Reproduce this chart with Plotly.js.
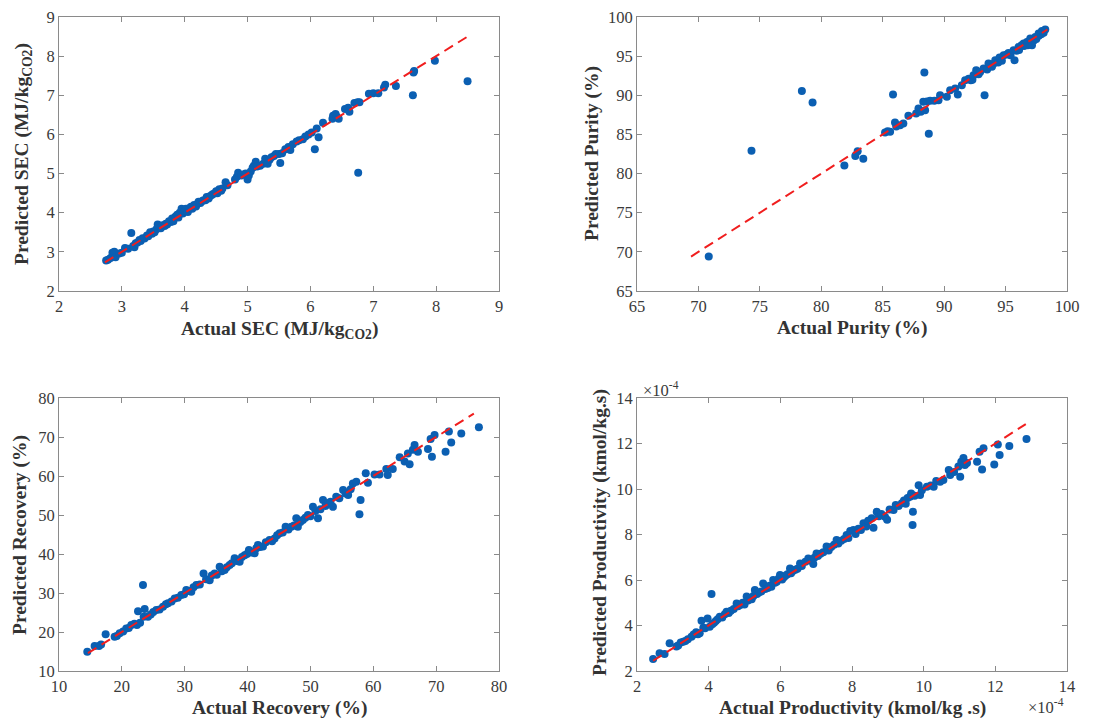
<!DOCTYPE html>
<html>
<head>
<meta charset="utf-8">
<script src="https://cdn.plot.ly/plotly-3.0.1.min.js"></script>
<style>html,body{margin:0;padding:0;background:#fff;}#chart{width:1096px;height:720px;}</style>
</head>
<body>
<div id="chart"></div>
<script>
// ---- Data (actual, predicted) ----
const secPoints = [[2.75,2.78],[2.78,2.80],[2.82,2.84],[2.85,2.98],[2.88,3.0],[2.9,2.86],[2.96,2.96],[3.0,2.98],[3.05,3.1],[3.1,3.08],[3.15,3.48],[3.18,3.15],[3.2,3.12],[3.22,3.22],[3.25,3.24],[3.28,3.3],[3.3,3.28],[3.33,3.35],[3.36,3.34],[3.4,3.42],[3.42,3.4],[3.45,3.5],[3.48,3.46],[3.5,3.52],[3.52,3.5],[3.55,3.58],[3.57,3.7],[3.6,3.62],[3.62,3.6],[3.65,3.68],[3.68,3.66],[3.7,3.72],[3.72,3.7],[3.75,3.78],[3.78,3.76],[3.8,3.85],[3.82,3.78],[3.85,3.9],[3.88,3.95],[3.9,3.88],[3.92,4.0],[3.95,4.1],[3.97,3.98],[4.0,4.05],[4.02,4.1],[4.05,4.02],[4.08,4.12],[4.1,4.15],[4.12,4.1],[4.15,4.2],[4.18,4.16],[4.2,4.22],[4.22,4.28],[4.25,4.25],[4.28,4.3],[4.3,4.32],[4.33,4.32],[4.35,4.4],[4.38,4.36],[4.4,4.42],[4.43,4.45],[4.45,4.48],[4.48,4.5],[4.5,4.55],[4.52,4.5],[4.55,4.6],[4.58,4.56],[4.6,4.62],[4.65,4.78],[4.68,4.7],[4.8,4.85],[4.83,4.92],[4.85,5.02],[4.9,4.95],[4.95,4.98],[4.97,5.0],[5.0,4.85],[5.02,4.95],[5.05,5.05],[5.08,5.15],[5.1,5.2],[5.13,5.3],[5.15,5.18],[5.2,5.2],[5.25,5.25],[5.28,5.38],[5.3,5.3],[5.32,5.25],[5.35,5.35],[5.38,5.42],[5.42,5.45],[5.45,5.5],[5.5,5.5],[5.52,5.27],[5.55,5.52],[5.6,5.62],[5.65,5.68],[5.68,5.6],[5.72,5.75],[5.78,5.82],[5.82,5.85],[5.88,5.88],[5.92,5.95],[5.97,6.0],[6.02,6.05],[6.07,5.62],[6.1,6.15],[6.13,5.93],[6.2,6.3],[6.35,6.4],[6.36,6.48],[6.4,6.52],[6.42,6.45],[6.45,6.4],[6.55,6.65],[6.6,6.68],[6.62,6.58],[6.7,6.8],[6.75,6.82],[6.76,5.02],[6.78,6.82],[6.93,7.04],[7.0,7.05],[7.08,7.05],[7.17,7.2],[7.19,7.27],[7.36,7.24],[7.63,7.0],[7.64,7.58],[7.65,7.62],[7.98,7.88],[8.5,7.36]];

const purityPoints = [[70.84,69.42],[74.32,82.91],[78.42,90.56],[79.29,89.07],[81.88,81.04],[82.77,82.23],[82.96,82.86],[83.42,81.89],[85.19,85.25],[85.4,85.4],[85.6,85.33],[85.84,90.1],[86.0,86.52],[86.1,86.0],[86.41,86.18],[86.68,86.4],[87.09,87.37],[87.72,87.67],[87.91,88.31],[88.1,87.9],[88.3,89.16],[88.39,92.9],[88.45,88.1],[88.6,89.2],[88.75,85.08],[88.86,89.29],[89.2,89.3],[89.54,89.37],[89.67,90.0],[90.22,89.8],[90.49,90.65],[90.9,90.86],[91.11,90.1],[91.44,91.29],[91.71,91.93],[92.0,92.1],[92.17,91.93],[92.3,92.0],[92.39,92.56],[92.61,93.2],[92.8,92.7],[92.93,92.99],[93.21,93.41],[93.29,90.01],[93.5,93.3],[93.61,94.05],[93.89,93.63],[94.0,94.0],[94.16,94.48],[94.4,94.2],[94.51,94.82],[94.7,94.4],[94.84,95.12],[95.1,95.2],[95.24,95.41],[95.4,95.1],[95.65,95.76],[95.73,94.48],[95.9,95.7],[96.06,96.18],[96.1,95.8],[96.3,96.4],[96.47,96.6],[96.5,96.3],[96.74,96.82],[96.8,96.4],[96.9,96.9],[97.0,96.5],[97.01,97.24],[97.1,96.8],[97.15,96.39],[97.3,97.0],[97.42,97.45],[97.5,97.2],[97.69,97.88],[97.7,97.6],[97.9,97.8],[97.96,98.22],[98.1,98.0],[98.23,98.39]];

const recoveryPoints = [[14.5,14.96],[15.67,16.4],[16.36,16.4],[16.7,16.8],[17.42,19.4],[18.85,18.8],[19.2,19.0],[19.65,19.66],[20.2,20.1],[20.7,20.9],[21.1,21.0],[21.5,21.8],[22.0,22.1],[22.4,21.8],[22.57,25.3],[22.9,22.4],[23.36,32.05],[23.47,23.9],[23.63,25.9],[24.16,23.9],[24.6,24.5],[25.0,25.1],[25.48,25.64],[26.0,25.8],[26.54,26.5],[27.0,27.1],[27.34,27.35],[27.9,27.8],[28.4,28.6],[28.9,28.8],[29.46,29.5],[29.9,29.7],[30.25,30.8],[30.6,30.5],[31.05,30.34],[31.4,31.5],[31.85,32.05],[32.4,32.2],[33.0,35.0],[33.4,33.5],[33.97,33.3],[34.3,34.5],[34.76,35.0],[35.1,34.7],[35.56,36.75],[35.9,35.6],[36.35,35.9],[36.7,36.6],[37.15,37.2],[37.5,37.6],[37.94,38.9],[38.3,38.2],[38.74,38.0],[39.1,39.2],[39.53,39.7],[39.9,40.0],[40.22,41.0],[40.6,40.4],[41.12,40.17],[41.4,41.5],[41.65,42.3],[42.0,41.8],[42.45,41.9],[42.9,43.0],[43.5,43.6],[43.9,43.3],[44.3,44.0],[44.7,44.8],[45.1,45.3],[45.6,45.5],[46.05,47.0],[46.5,46.3],[46.96,47.0],[47.4,47.3],[47.75,49.15],[48.0,47.0],[48.4,48.2],[48.8,48.7],[49.2,49.3],[49.6,50.0],[50.0,49.7],[50.4,52.1],[50.8,51.0],[51.2,49.15],[51.6,51.5],[52.0,53.85],[52.4,52.3],[52.8,53.0],[53.2,53.4],[53.58,52.1],[54.1,54.7],[54.6,54.3],[55.2,56.4],[55.6,55.5],[56.0,55.1],[56.4,56.6],[56.75,58.1],[57.3,58.5],[57.8,50.2],[57.98,53.85],[58.8,60.7],[59.15,58.3],[60.2,60.4],[61.0,60.4],[62.07,61.8],[62.3,60.26],[63.1,61.8],[64.2,64.8],[64.98,63.7],[65.5,65.8],[65.78,63.0],[66.3,66.7],[66.57,67.95],[67.1,66.2],[68.7,66.9],[69.12,69.5],[69.33,64.96],[69.75,70.5],[71.5,66.24],[72.03,71.4],[72.4,68.6],[74.0,70.9],[76.8,72.48]];

// productivity values in units of 1e-4 kmol/kg.s
const productivityPoints = [[2.45,2.53],[2.63,2.78],[2.77,2.75],[2.91,3.22],[3.1,3.08],[3.15,3.12],[3.22,3.25],[3.29,3.29],[3.35,3.32],[3.42,3.4],[3.52,3.51],[3.58,3.6],[3.65,3.7],[3.7,3.62],[3.75,3.66],[3.8,4.21],[3.85,3.9],[3.9,3.88],[3.97,4.31],[4.03,3.95],[4.08,5.38],[4.1,4.05],[4.15,4.12],[4.2,4.2],[4.25,4.28],[4.31,4.39],[4.38,4.35],[4.45,4.5],[4.5,4.6],[4.56,4.55],[4.62,4.65],[4.7,4.72],[4.78,4.97],[4.82,4.85],[4.88,4.9],[4.95,5.0],[5.0,4.92],[5.06,5.27],[5.1,5.1],[5.15,5.2],[5.2,5.15],[5.25,5.3],[5.29,5.56],[5.35,5.38],[5.4,5.45],[5.47,5.5],[5.52,5.85],[5.58,5.6],[5.65,5.65],[5.7,5.75],[5.75,5.7],[5.8,6.0],[5.85,5.88],[5.9,5.92],[5.95,6.05],[5.99,6.22],[6.05,6.02],[6.1,6.12],[6.15,6.2],[6.2,6.25],[6.27,6.51],[6.3,6.3],[6.35,6.4],[6.42,6.45],[6.48,6.5],[6.55,6.73],[6.6,6.62],[6.7,6.8],[6.78,6.95],[6.85,6.85],[6.92,6.7],[6.95,6.98],[7.01,7.17],[7.05,7.05],[7.12,7.15],[7.2,7.22],[7.29,7.47],[7.35,7.3],[7.42,7.45],[7.5,7.55],[7.57,7.76],[7.62,7.6],[7.7,7.72],[7.78,7.8],[7.85,7.98],[7.9,7.85],[7.95,8.15],[8.04,8.2],[8.1,8.02],[8.18,8.25],[8.25,8.2],[8.32,8.49],[8.4,8.35],[8.45,8.6],[8.55,8.71],[8.6,8.3],[8.69,9.0],[8.75,8.8],[8.82,8.9],[8.92,8.78],[8.98,8.65],[9.05,9.1],[9.16,9.08],[9.22,9.3],[9.3,9.25],[9.39,9.37],[9.45,9.5],[9.5,9.35],[9.55,9.6],[9.62,9.66],[9.65,9.8],[9.7,9.0],[9.69,8.42],[9.75,9.7],[9.86,10.16],[9.9,9.74],[9.95,9.95],[10.09,10.1],[10.2,10.15],[10.28,10.1],[10.35,10.35],[10.46,10.32],[10.55,10.4],[10.7,10.84],[10.74,10.62],[10.85,10.75],[10.97,10.99],[11.02,10.54],[11.05,11.2],[11.11,11.36],[11.15,11.05],[11.21,11.14],[11.49,11.2],[11.56,11.64],[11.63,10.86],[11.67,11.79],[11.97,11.08],[12.07,11.96],[12.12,11.49],[12.39,11.89],[12.87,12.2]];

// y = x reference line end points
const secLine = [2.73, 8.51];
const purityLine = [69.4, 98.4];
const recoveryLine = [14.6, 76.0];
const productivityLine = [2.45, 12.85];

// axis ranges and tick steps
const secRange = [2, 9], secTick = 1;
const purityRange = [65, 100], purityTick = 5;
const recoveryRange = [10, 80], recoveryTick = 10;
const productivityRange = [2, 14], productivityTick = 2;

// ---- Styling ----
const dotColor = '#0b5fb2';
const lineColor = '#f01e1e';
const font = 'Liberation Serif, Times New Roman, serif';

function scatter(points, xa, ya) {
  return {type:'scatter', mode:'markers', x:points.map(p=>p[0]), y:points.map(p=>p[1]),
    xaxis:xa, yaxis:ya, marker:{color:dotColor, size:8}, hoverinfo:'skip', showlegend:false};
}
function refLine(r, xa, ya) {
  return {type:'scatter', mode:'lines', x:r, y:r, xaxis:xa, yaxis:ya,
    line:{color:lineColor, width:2, dash:'10px,6px'}, hoverinfo:'skip', showlegend:false};
}
function axis(range, dtick, domain, anchor) {
  return {range:range, dtick:dtick, domain:domain, anchor:anchor, showgrid:false, zeroline:false,
    showline:true, mirror:'ticks', linecolor:'#8a8a8a', linewidth:1, ticks:'inside', ticklen:5,
    tickcolor:'#8a8a8a', tickfont:{family:font, size:16.5, color:'#3a3a3a'}, fixedrange:true};
}

const xd1 = [59/1096, 499/1096], xd2 = [637/1096, 1067/1096];
const yd1 = [1-291/720, 1-17/720], yd2 = [1-671/720, 1-398/720];

const data = [
  scatter(secPoints,'x','y'), refLine(secLine,'x','y'),
  scatter(purityPoints,'x2','y2'), refLine(purityLine,'x2','y2'),
  scatter(recoveryPoints,'x3','y3'), refLine(recoveryLine,'x3','y3'),
  scatter(productivityPoints,'x4','y4'), refLine(productivityLine,'x4','y4')
];

const tf = {family:font, size:19.5, color:'#333'};
function ann(text, x, y, rot) {
  return {text:text, x:x/1096, y:1-y/720, xref:'paper', yref:'paper', showarrow:false,
    textangle:rot||0, font:tf, xanchor:'center', yanchor:'middle'};
}
const annotations = [
  ann('<b>Actual SEC (MJ/kg<sub>CO2</sub>)</b>', 279, 330),
  ann('<b>Predicted SEC (MJ/kg<sub>CO2</sub>)</b>', 23, 154, -90),
  ann('<b>Actual Purity (%)</b>', 852, 328),
  ann('<b>Predicted Purity (%)</b>', 592, 154, -90),
  ann('<b>Actual Recovery (%)</b>', 279, 708),
  ann('<b>Predicted Recovery (%)</b>', 20, 535, -90),
  ann('<b>Actual Productivity (kmol/kg .s)</b>', 852, 708),
  ann('<b>Predicted Productivity (kmol/kg.s)</b>', 600, 533, -90),
  {text:'×10<sup>-4</sup>', x:661/1096, y:1-389/720, xref:'paper', yref:'paper', showarrow:false,
    font:{family:font, size:16.5, color:'#3a3a3a'}, xanchor:'center', yanchor:'middle'},
  {text:'×10<sup>-4</sup>', x:1046/1096, y:1-706/720, xref:'paper', yref:'paper', showarrow:false,
    font:{family:font, size:16.5, color:'#3a3a3a'}, xanchor:'center', yanchor:'middle'}
];

const layout = {
  width:1096, height:720, margin:{l:0, r:0, t:0, b:0}, paper_bgcolor:'#fff', plot_bgcolor:'#fff',
  showlegend:false,
  xaxis: axis(secRange, secTick, xd1, 'y'), yaxis: axis(secRange, secTick, yd1, 'x'),
  xaxis2: axis(purityRange, purityTick, xd2, 'y2'), yaxis2: axis(purityRange, purityTick, yd1, 'x2'),
  xaxis3: axis(recoveryRange, recoveryTick, xd1, 'y3'), yaxis3: axis(recoveryRange, recoveryTick, yd2, 'x3'),
  xaxis4: axis(productivityRange, productivityTick, xd2, 'y4'), yaxis4: axis(productivityRange, productivityTick, yd2, 'x4'),
  annotations: annotations
};

Plotly.newPlot('chart', data, layout, {displayModeBar:false, staticPlot:true});
</script>
</body>
</html>
